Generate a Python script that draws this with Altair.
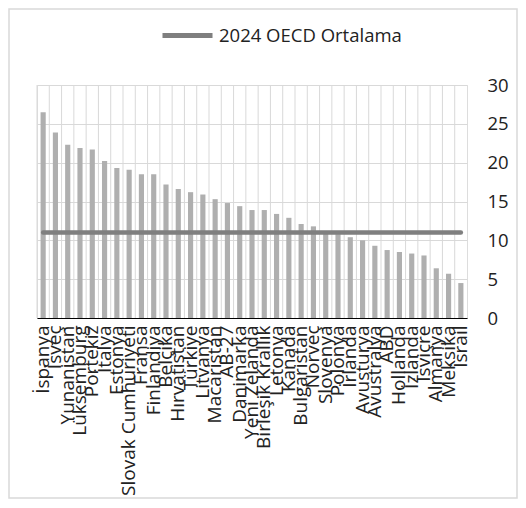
import altair as alt
import pandas as pd

countries = ["İspanya", "İsveç", "Yunanistan", "Lüksemburg", "Portekiz", "İtalya",
             "Estonya", "Slovak Cumhuriyeti", "Fransa", "Finlandiya", "Belçika",
             "Hırvatistan", "Türkiye", "Litvanya", "Macaristan", "AB-27", "Danimarka",
             "Yeni Zelanda", "Birleşik Krallık", "Letonya", "Kanada", "Bulgaristan",
             "Norveç", "Slovenya", "Polonya", "İrlanda", "Avusturya", "Avustralya",
             "ABD", "Hollanda", "İzlanda", "İsviçre", "Almanya", "Meksika", "İsrail"]
values = [26.5, 23.9, 22.3, 21.9, 21.7, 20.2, 19.3, 19.1, 18.5, 18.5, 17.2, 16.6,
          16.2, 15.9, 15.3, 14.8, 14.4, 13.9, 13.9, 13.4, 12.9, 12.1, 11.8, 11.0,
          10.8, 10.4, 10.0, 9.3, 8.75, 8.5, 8.3, 8.05, 6.4, 5.7, 4.5]
oecd_label = "2024 OECD Ortalama"
oecd_avg = 11.0
y_ticks = [0, 5, 10, 15, 20, 25, 30]

df = pd.DataFrame({"country": countries, "value": values,
                   "avg": [oecd_avg] * len(countries),
                   "series": [oecd_label] * len(countries)})

FONT = "Open Sans"
xscale = alt.Scale(domain=countries, paddingInner=0, paddingOuter=0)
yscale = alt.Scale(domain=[0, 30])

x_axis = alt.Axis(labelAngle=-90, labelPadding=7, ticks=False,
                  domainColor="#000000", domainWidth=1.2,
                  labelFontSize=19, labelColor="#222222", labelFont=FONT,
                  labelOverlap=False, grid=False, title=None, labelLimit=0)
y_axis = alt.Axis(orient="right", values=y_ticks, ticks=False, domain=False,
                  grid=True, gridColor="#d9d9d9", labelPadding=20, labelOverlap=False,
                  labelFontSize=18.5, labelColor="#222222", labelFont=FONT, title=None)

base = alt.Chart(df)

vgrid = base.mark_rule(color="#d9d9d9", strokeWidth=1).encode(
    x=alt.X("country:N", scale=xscale, sort=countries, bandPosition=0, axis=x_axis)
)

bars = base.mark_bar(color="#afafaf", width=alt.RelativeBandSize(0.42)).encode(
    x=alt.X("country:N", scale=xscale, sort=countries, axis=x_axis),
    y=alt.Y("value:Q", scale=yscale, axis=y_axis)
)

line = base.mark_line(strokeWidth=4.5, strokeCap="round").encode(
    x=alt.X("country:N", scale=xscale, sort=countries, axis=x_axis),
    y=alt.Y("avg:Q", scale=yscale, axis=y_axis),
    color=alt.Color("series:N", scale=alt.Scale(domain=[oecd_label], range=["#7f7f7f"]),
                    legend=alt.Legend(title=None, orient="none", legendX=123, legendY=-77,
                                      symbolType="stroke", symbolSize=2500,
                                      symbolStrokeWidth=5, labelFontSize=18.5,
                                      labelFont=FONT, labelColor="#222222",
                                      labelOffset=4, labelLimit=0))
)

border = alt.Chart(pd.DataFrame({"a": [0]})).mark_rect(
    fill=None, stroke="#d9d9d9", strokeWidth=1.5
).encode(x=alt.value(-28), x2=alt.value(480), y=alt.value(-76), y2=alt.value(413))

chart = alt.layer(border, vgrid, bars, line).properties(
    width=430, height=233,
    autosize=alt.AutoSizeParams(type="none"),
    padding={"left": 29, "top": 77, "right": 51, "bottom": 182}
).configure_view(stroke="#d9d9d9", strokeWidth=1).configure(background="white")

chart.save("out.html", embed_options={"renderer": "svg", "actions": False})
